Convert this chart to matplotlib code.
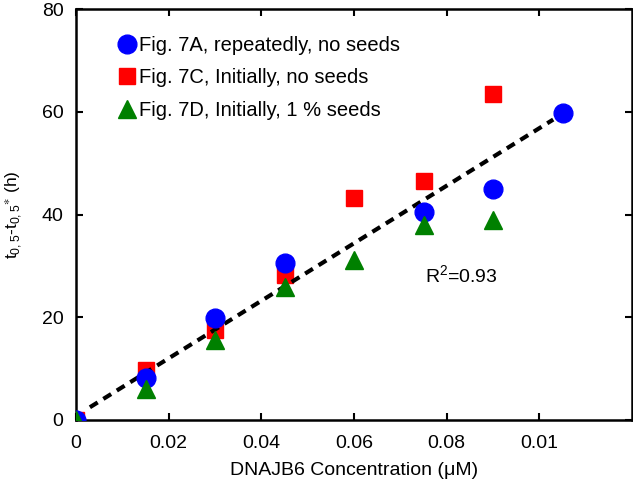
import matplotlib
matplotlib.use("Agg")
import matplotlib.pyplot as plt
import numpy as np

plt.rcParams['font.family'] = ['Liberation Sans', 'DejaVu Sans']
plt.rcParams['mathtext.fontset'] = 'custom'
plt.rcParams['mathtext.rm'] = 'Liberation Sans'
plt.rcParams['mathtext.it'] = 'Liberation Sans'

# Data
x_a = [0.0, 0.015, 0.03, 0.045, 0.075, 0.09, 0.105]
y_a = [0.0, 8.2, 19.8, 30.5, 40.4, 45.0, 59.7]
x_c = [0.0, 0.015, 0.03, 0.045, 0.06, 0.075, 0.09]
y_c = [0.0, 9.8, 17.6, 28.2, 43.3, 46.5, 63.4]
x_d = [0.0, 0.015, 0.03, 0.045, 0.06, 0.075, 0.09]
y_d = [0.0, 6.0, 15.6, 25.8, 31.2, 37.9, 39.0]
fit_x = [0.003, 0.103]
fit_slope = 560.0
fit_intercept = 0.8
xticks = [0, 0.02, 0.04, 0.06, 0.08, 0.1]
xticklabels = ['0', '0.02', '0.04', '0.06', '0.08', '0.01']
yticks = [0, 20, 40, 60, 80]

FS = 14

fig = plt.figure(figsize=(6.33, 4.86), dpi=100)
top_px, bot_px = 9, 420
ax = fig.add_axes([76/633, 1-bot_px/486, (632-76)/633, (bot_px-top_px)/486])

fx = np.array(fit_x)
ax.plot(fx, fit_slope*fx + fit_intercept, color='black', lw=3, ls=(0, (2.2, 1.6)), zorder=3)

la, = ax.plot(x_a, y_a, 'o', color='#0000ff', ms=13.5, mec='#0000ff', zorder=4, label='Fig. 7A, repeatedly, no seeds')
lc, = ax.plot(x_c, y_c, 's', color='#ff0000', ms=11.5, mec='#ff0000', zorder=2, label='Fig. 7C, Initially, no seeds')
ld, = ax.plot(x_d, y_d, '^', color='#008000', ms=13.5, mec='#008000', zorder=5, label='Fig. 7D, Initially, 1 % seeds')

ax.set_xlim(0, 0.12)
ax.set_ylim(0, 80)
ax.set_xticks(xticks)
ax.set_xticklabels(xticklabels)
ax.set_yticks(yticks)
ax.tick_params(direction='in', length=5, width=1.5, labelsize=FS, top=True, right=True)
ax.tick_params(axis='x', pad=11)
ax.tick_params(axis='y', pad=9)
for s in ax.spines.values():
    s.set_linewidth(1.8)

ax.set_xlabel('DNAJB6 Concentration (μM)', fontsize=FS, labelpad=7)
ax.set_ylabel(r'$\mathregular{t_{0,5}}$-$\mathregular{t_{0,5}{}^{\ast}}$ (h)', fontsize=12.5)
ax.yaxis.set_label_coords(-0.094, 0.5)

ax.text(0.0754, 28.2, r'R$\mathregular{^2}$=0.93', fontsize=FS, va='center', ha='left')

leg = ax.legend(handles=[la, lc, ld], loc='upper left', bbox_to_anchor=(0.075, 0.935),
                frameon=False, fontsize=FS + 0.5, handlelength=0.9, handletextpad=0.15,
                labelspacing=0.68, borderaxespad=0, borderpad=0)

fig.savefig('out.png', dpi=100)
